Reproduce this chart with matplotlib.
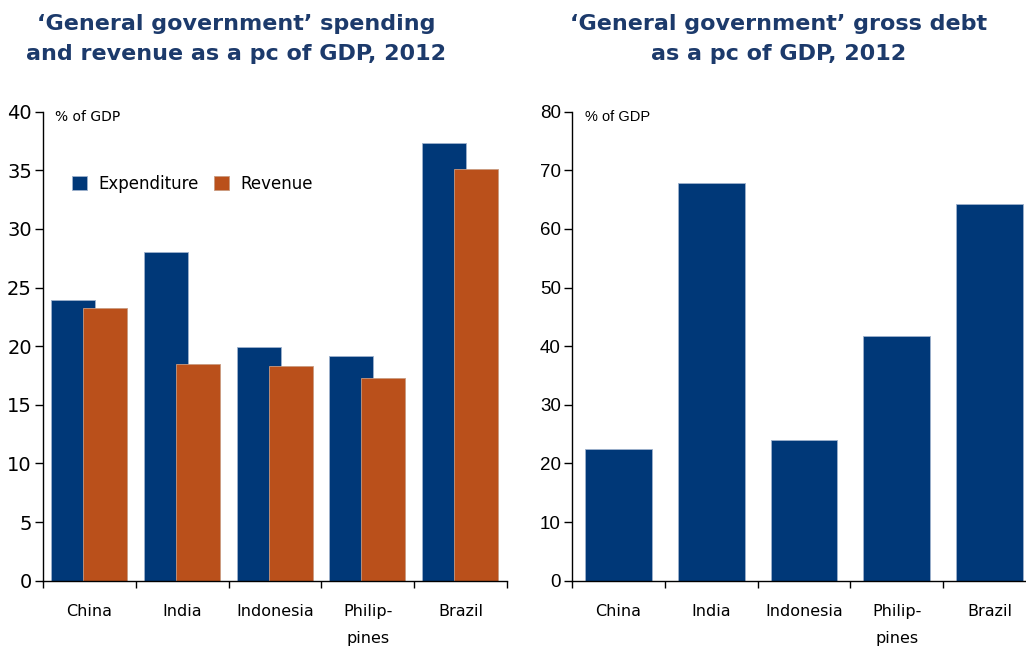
import matplotlib.pyplot as plt
import numpy as np

countries = ['China', 'India', 'Indonesia', 'Philip-\npines', 'Brazil']
expenditure = [23.9, 28.0, 19.9, 19.2, 37.35]
revenue = [23.3, 18.5, 18.3, 17.3, 35.1]
gross_debt = [22.4, 67.9, 24.0, 41.7, 64.3]

blue = '#003878'
orange = '#BA501B'
title_col = '#1C3A6B'
edge = '#9DB1CC'

plt.rcParams['font.family'] = ['DejaVu Sans']

fig = plt.figure(figsize=(10.26, 6.49), dpi=100)
ax1 = fig.add_axes([0.0419, 0.1052, 0.4523, 0.7227])
ax2 = fig.add_axes([0.5575, 0.1052, 0.4523, 0.7227])

x = np.arange(len(countries))
w = 0.474

# expenditure first, revenue overlapping on top of it
ax1.bar(x - 0.414, expenditure, width=w, align='edge', color=blue,
        edgecolor=edge, linewidth=0.6, label='Expenditure')
ax1.bar(x - 0.069, revenue, width=w, align='edge', color=orange,
        edgecolor='#C99A80', linewidth=0.6, label='Revenue')
ax1.set_ylim(0, 40)
ax1.set_yticks(range(0, 41, 5))

ax2.bar(x, gross_debt, width=0.72, color=blue, edgecolor=edge, linewidth=0.6)
ax2.set_ylim(0, 80)
ax2.set_yticks(range(0, 81, 10))

for ax in (ax1, ax2):
    ax.set_xlim(-0.5, len(countries) - 0.5)
    for s in ('top', 'right'):
        ax.spines[s].set_visible(False)
    ax.spines['left'].set_linewidth(1.0)
    ax.spines['bottom'].set_linewidth(1.0)
    # tick marks at category boundaries, labels at centres
    ax.set_xticks(np.arange(len(countries) + 1) - 0.5)
    ax.set_xticklabels([])
    ax.set_xticks(x, minor=True)
    ax.set_xticklabels(countries, minor=True, fontsize=11.5, va='top')
    for lbl in ax.get_xticklabels(minor=True):
        lbl.set_linespacing(2.0)
    ax.tick_params(axis='x', which='major', direction='out', length=5, width=1)
    ax.tick_params(axis='x', which='minor', length=0, pad=17)
    ax.tick_params(axis='y', direction='out', length=6, width=1, pad=2)

ax1.tick_params(axis='y', labelsize=14)
ax2.tick_params(axis='y', labelsize=13.5)
for lbl in ax2.get_yticklabels():
    lbl.set_family('Liberation Sans')

ax1.text(0.025, 0.989, '% of GDP', transform=ax1.transAxes, fontsize=10,
         va='center', ha='left')
ax2.text(0.027, 0.989, '% of GDP', transform=ax2.transAxes, fontsize=10.5,
         va='center', ha='left', family='Liberation Sans')

ax1.legend(loc='center left', bbox_to_anchor=(0.03, 0.846), ncol=2,
           frameon=False, fontsize=12, handlelength=0.9, handleheight=0.9,
           handletextpad=0.7, columnspacing=0.9)

titles = [
    (0.230, ['\u2018General government\u2019 spending',
             'and revenue as a pc of GDP, 2012']),
    (0.759, ['\u2018General government\u2019 gross debt',
             'as a pc of GDP, 2012']),
]
for xc, lines in titles:
    for yb, line in zip((0.9538, 0.9076), lines):
        fig.text(xc, yb, line, ha='center', va='baseline', fontsize=16,
                 fontweight='bold', color=title_col)

fig.savefig('out.png', dpi=100)
